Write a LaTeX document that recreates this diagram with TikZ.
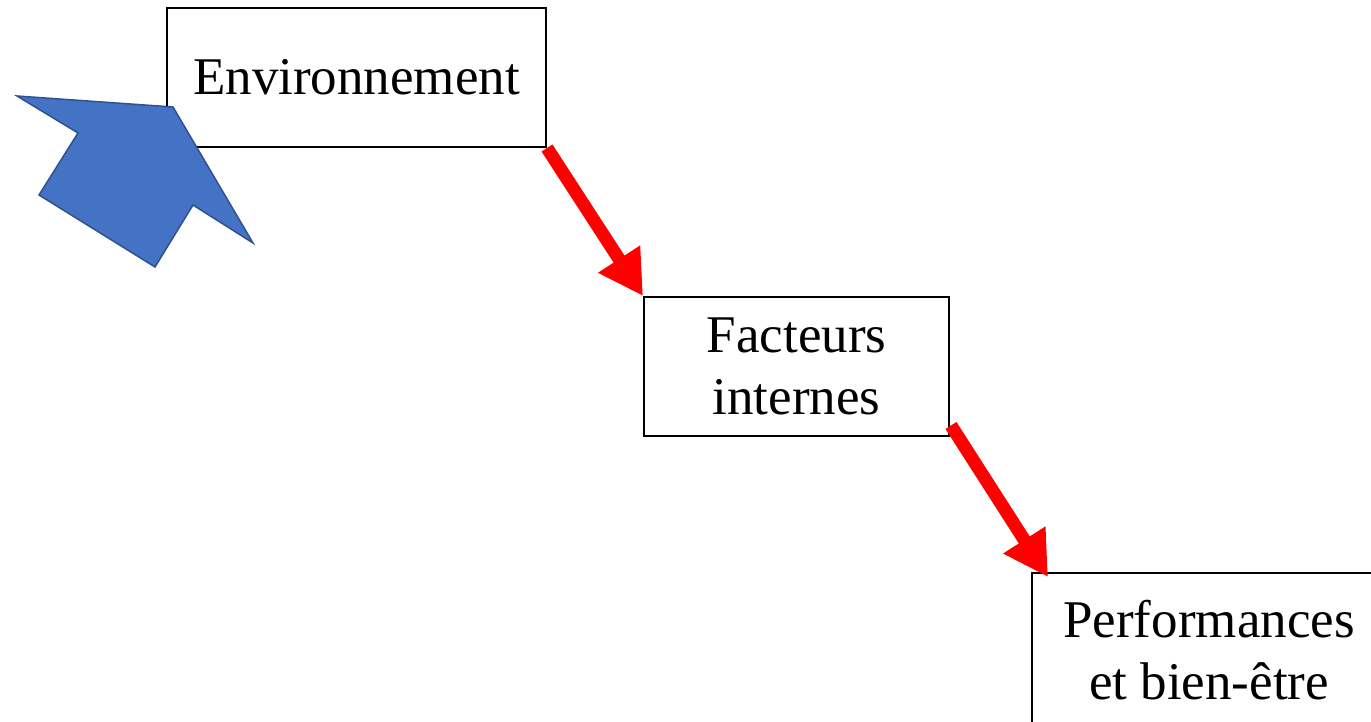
\documentclass[tikz,border=0pt]{standalone}
\usepackage{fontspec}
\setmainfont{Liberation Serif}
\usetikzlibrary{arrows.meta}

\definecolor{blockblue}{HTML}{4472C4}
\definecolor{blockedge}{HTML}{2F528F}
\definecolor{flowred}{HTML}{FF0000}

\tikzset{
  stagetext/.style={align=center, inner sep=0pt, font=\fontsize{53}{62}\selectfont},
  stage/.style={stagetext, draw=black, line width=2pt, fill=white},
  stageedge/.style={draw=black, line width=2pt},
  flow/.style={draw=flowred, line width=13pt,
    -{Triangle[length=44pt,width=47pt]}},
  bigarrow/.style={fill=blockblue, draw=blockedge, line width=1.5pt, line join=miter}
}

\begin{document}
\begin{tikzpicture}[x=1pt, y=-1pt]
  \useasboundingbox (0,0) rectangle (1371,722);

  % the three stages
  \node[stage, minimum width=379pt, minimum height=139pt] (env) at (356.5,77.5) {Environnement};
  \node[stage, minimum width=305pt, minimum height=139pt] (fac) at (796.5,366.5) {Facteurs\\internes};
  % the last stage runs off the right and bottom edges: only its left and top sides show
  \node[stagetext] (perf) at (1209,650) {Performances\\et bien-être};
  \coordinate (perfcorner) at (1032,573);
  \coordinate (perfright) at (1371,573);
  \coordinate (perfbottom) at (1032,722);
  \draw[stageedge] (perfbottom) -- (perfcorner) -- (perfright);

  % links between stages
  \draw[flow] (env.south east) -- (fac.north west);
  \draw[flow] ([shift={(1,-11.5)}]fac.south east) -- ([shift={(16,4)}]perfcorner);

  % block arrow pointing at the first stage
  \draw[bigarrow] (17,96) -- (173,107) -- (253,243) -- (193,205) -- (155,267)
    -- (39,195) -- (78,133) -- cycle;
\end{tikzpicture}
\end{document}
